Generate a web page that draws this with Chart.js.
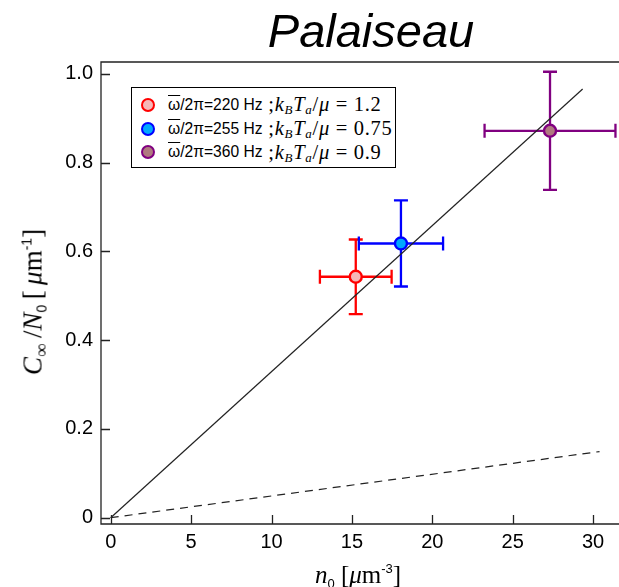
<!DOCTYPE html>
<html>
<head>
<meta charset="utf-8">
<script src="https://cdn.jsdelivr.net/npm/chart.js@4/dist/chart.umd.min.js"></script>
<style>
  html, body { margin: 0; padding: 0; background: #fff; }
  #wrap { position: relative; width: 619px; height: 587px; overflow: hidden; }
  #chart { position: absolute; left: 0; top: 0; }
  .title {
    position: absolute; left: 171px; width: 400px; top: 7px; text-align: center;
    font: italic 47px "Liberation Sans", Arial, sans-serif; line-height: 47px; color: #000;
  }
  .math { font-family: "Liberation Serif", "DejaVu Serif", serif; color: #000; }
  .ytitle {
    position: absolute; left: 34px; top: 302px; white-space: nowrap;
    transform: translate(-50%, -50%) rotate(-90deg); font-size: 27px; line-height: 28px;
  }
  .xtitle {
    position: absolute; left: 358px; top: 555px; white-space: nowrap;
    transform: translateX(-50%); font-size: 25px; line-height: 27px;
  }
  .sub0 { font-family: "Liberation Sans", Arial, sans-serif; font-size: 13px; font-style: normal; vertical-align: -5px; }
  .sup { font-family: "Liberation Sans", Arial, sans-serif; font-size: 13px; vertical-align: 10px; }
  #legend {
    position: absolute; left: 131px; top: 87px; width: 263px; height: 74px;
    border: 1.5px solid #000; background: #fff; box-sizing: content-box;
    padding-top: 5px;
  }
  .row { height: 23.8px; display: flex; align-items: center; white-space: nowrap; }
  .dot { width: 10px; height: 10px; border-radius: 50%; border: 2.4px solid; margin-left: 9px; margin-right: 13px; flex: none; }
  .lab { font-family: "Liberation Sans", Arial, sans-serif; font-size: 15.6px; }
  .ob { text-decoration: overline; }
  .lm { font-family: "Liberation Serif", "DejaVu Serif", serif; font-size: 20.5px; letter-spacing: 0.7px; }
  .lm i { font-style: italic; }
  .lm sub { font-size: 13px; vertical-align: -3px; line-height: 0; }
</style>
</head>
<body>
<div id="wrap">
  <canvas id="chart" width="619" height="587"></canvas>
  <div class="title">Palaiseau</div>
  <div class="ytitle math"><i>C</i><span style="font-size:19px;vertical-align:-6px">∞</span>&thinsp;/<i>N</i><span class="sub0" style="font-size:14px">0</span>&thinsp;[&thinsp;<i>μ</i>m<span class="sup" style="font-size:14px">-1</span>]</div>
  <div class="xtitle math"><i>n</i><span class="sub0">0</span>&nbsp;[<i>μ</i>m<span class="sup">-3</span>]</div>
  <div id="legend"></div>
</div>
<script>
// Atom density n0 [µm^-3] and C∞/N0 [µm^-1] for the three trap frequencies
const trapFreq   = [220, 255, 360];
const tempRatio  = ['1.2', '0.75', '0.9'];
const density    = [15.24, 18.05, 27.32];
const densityErr = [2.23, 2.62, 4.07];
const ratio      = [0.543, 0.618, 0.872];
const ratioErr   = [0.084, 0.097, 0.133];

// Linear trend (solid) and reference slope (dashed)
const fitX = [0, 29.35];
const fitY = [0, 0.966];
const refX = [0, 30.4];
const refY = [0, 0.149];

// Axis ticks
const xTicks = [0, 5, 10, 15, 20, 25, 30];
const yTicks = [0, 0.2, 0.4, 0.6, 0.8, 1.0];

const edgeColors = ['#ff0000', '#0000ff', '#800080'];
const fillColors = ['#f6b8b8', '#00a8ff', '#b07a80'];

// Legend
const legend = document.getElementById('legend');
trapFreq.forEach((f, i) => {
  const row = document.createElement('div');
  row.className = 'row';
  row.innerHTML =
    `<span class="dot" style="border-color:${edgeColors[i]};background:${fillColors[i]}"></span>` +
    `<span class="lab"><span class="ob">ω</span>/2π=${f} Hz</span>` +
    `<span class="lm">&nbsp;;<i>k</i><sub><i>B</i></sub><i>T</i><sub><i>a</i></sub>/<i>μ</i> = ${tempRatio[i]}</span>`;
  legend.appendChild(row);
});

const pointSets = density.map((x, i) => ({
  label: `${trapFreq[i]} Hz`,
  data: [{ x: x, y: ratio[i] }],
  showLine: false,
  pointRadius: 6,
  pointBorderWidth: 2.4,
  pointBackgroundColor: fillColors[i],
  pointBorderColor: edgeColors[i],
  pointHoverRadius: 6
}));

const lineSet = (xs, ys, dash) => ({
  data: xs.map((x, i) => ({ x: x, y: ys[i] })),
  showLine: true,
  borderColor: '#222',
  borderWidth: 1.2,
  borderDash: dash,
  pointRadius: 0,
  fill: false
});

// Error bars drawn underneath the markers
const errorBars = {
  id: 'errorBars',
  beforeDatasetsDraw(chart) {
    const { ctx, scales: { x, y } } = chart;
    const cap = 7;
    density.forEach((d, i) => {
      const cx = x.getPixelForValue(d), cy = y.getPixelForValue(ratio[i]);
      const l = x.getPixelForValue(d - densityErr[i]), r = x.getPixelForValue(d + densityErr[i]);
      const t = y.getPixelForValue(ratio[i] + ratioErr[i]), b = y.getPixelForValue(ratio[i] - ratioErr[i]);
      ctx.save();
      ctx.strokeStyle = edgeColors[i];
      ctx.lineWidth = 2.3;
      ctx.beginPath();
      ctx.moveTo(l, cy); ctx.lineTo(r, cy);
      ctx.moveTo(cx, t); ctx.lineTo(cx, b);
      ctx.moveTo(l, cy - cap); ctx.lineTo(l, cy + cap);
      ctx.moveTo(r, cy - cap); ctx.lineTo(r, cy + cap);
      ctx.moveTo(cx - cap, t); ctx.lineTo(cx + cap, t);
      ctx.moveTo(cx - cap, b); ctx.lineTo(cx + cap, b);
      ctx.stroke();
      ctx.restore();
    });
  }
};

// Frame (left, top, bottom) with inward tick marks
const frame = {
  id: 'frame',
  afterDraw(chart) {
    const { ctx, chartArea: a, scales: { x, y } } = chart;
    ctx.save();
    ctx.strokeStyle = '#222';
    ctx.lineWidth = 1.3;
    ctx.beginPath();
    ctx.moveTo(chart.width, a.top); ctx.lineTo(a.left, a.top);
    ctx.lineTo(a.left, a.bottom); ctx.lineTo(chart.width, a.bottom);
    const tl = 9;
    xTicks.forEach(v => { const px = Math.round(x.getPixelForValue(v)) + 0.5; ctx.moveTo(px, a.bottom); ctx.lineTo(px, a.bottom - tl); });
    yTicks.forEach(v => { const py = Math.round(y.getPixelForValue(v)) + 0.5; ctx.moveTo(a.left, py); ctx.lineTo(a.left + tl, py); });
    ctx.stroke();
    ctx.restore();
  }
};

new Chart(document.getElementById('chart'), {
  type: 'scatter',
  data: {
    datasets: [...pointSets, lineSet(refX, refY, [8, 6]), lineSet(fitX, fitY, [])]
  },
  options: {
    responsive: false,
    animation: false,
    events: [],
    layout: { autoPadding: false, padding: { top: 62, left: 0, right: 0, bottom: 0 } },
    plugins: { legend: { display: false }, tooltip: { enabled: false }, title: { display: false } },
    scales: {
      x: {
        type: 'linear', min: -0.603, max: 31.61,
        grid: { display: false, drawTicks: false },
        border: { display: false },
        afterBuildTicks: s => { s.ticks = xTicks.map(v => ({ value: v })); },
        afterFit: s => { s.height = 63; s.paddingLeft = 0; s.paddingRight = 0; },
        ticks: { padding: 6, color: '#000', font: { family: '"Liberation Sans", Arial, sans-serif', size: 20 },
                 callback: v => String(v) }
      },
      y: {
        type: 'linear', min: -0.0142, max: 1.027,
        grid: { display: false, drawTicks: false },
        border: { display: false },
        afterBuildTicks: s => { s.ticks = yTicks.map(v => ({ value: v })); },
        afterFit: s => { s.width = 101; s.paddingTop = 0; s.paddingBottom = 0; },
        ticks: { padding: 8, color: '#000', font: { family: '"Liberation Sans", Arial, sans-serif', size: 20 },
                 callback: v => (v === 0 ? '0' : v.toFixed(1)) }
      }
    }
  },
  plugins: [errorBars, frame]
});
</script>
</body>
</html>
